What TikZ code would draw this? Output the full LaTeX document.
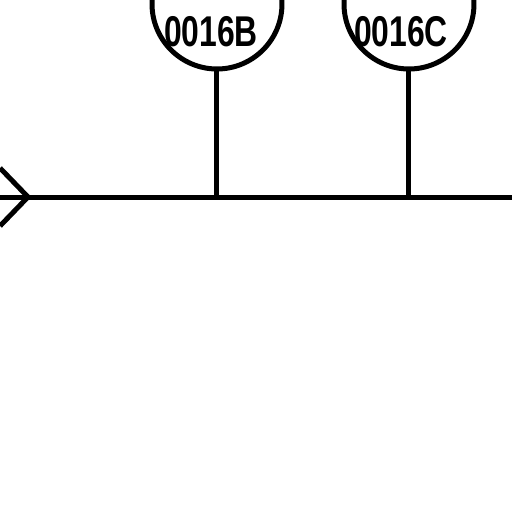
\documentclass[tikz,border=0pt]{standalone}
\usepackage{fontspec}
\setmainfont{Liberation Sans}
\usetikzlibrary{arrows.meta, positioning}

\begin{document}
\begin{tikzpicture}[
    x=0.02cm, y=-0.02cm,
    bus/.style={line width=0.1cm, black},
    tag/.style={circle, draw, line width=0.1cm, minimum size=2.6cm, inner sep=0pt},
    tagtext/.style={inner sep=0pt, font=\fontsize{24.5}{25}\selectfont\bfseries}
]
    \useasboundingbox (0,0) rectangle (512,512);

    % bus line with entry arrow
    \coordinate (busW) at (0,197);
    \coordinate (busE) at (512,197);
    \coordinate (entry) at (28,197);
    \coordinate (barbA) at (0,168);
    \coordinate (barbB) at (0,226);
    \draw[bus] (busW) -- (busE);
    \draw[bus, line join=miter] (barbA) -- (entry) -- (barbB);

    % tags
    \node[tag] (t16b) at (217,4) {};
    \node[tag] (t16c) at (409,4) {};
    \node[tagtext] (l16b) at (211,32) {\scalebox{0.74}[1]{0016B}};
    \node[tagtext] (l16c) at (401,32) {\scalebox{0.74}[1]{0016C}};

    % stems down to the bus
    \draw[bus] (t16b.south) -- (t16b.south |- busE);
    \draw[bus] (t16c.south) -- (t16c.south |- busE);
\end{tikzpicture}
\end{document}
